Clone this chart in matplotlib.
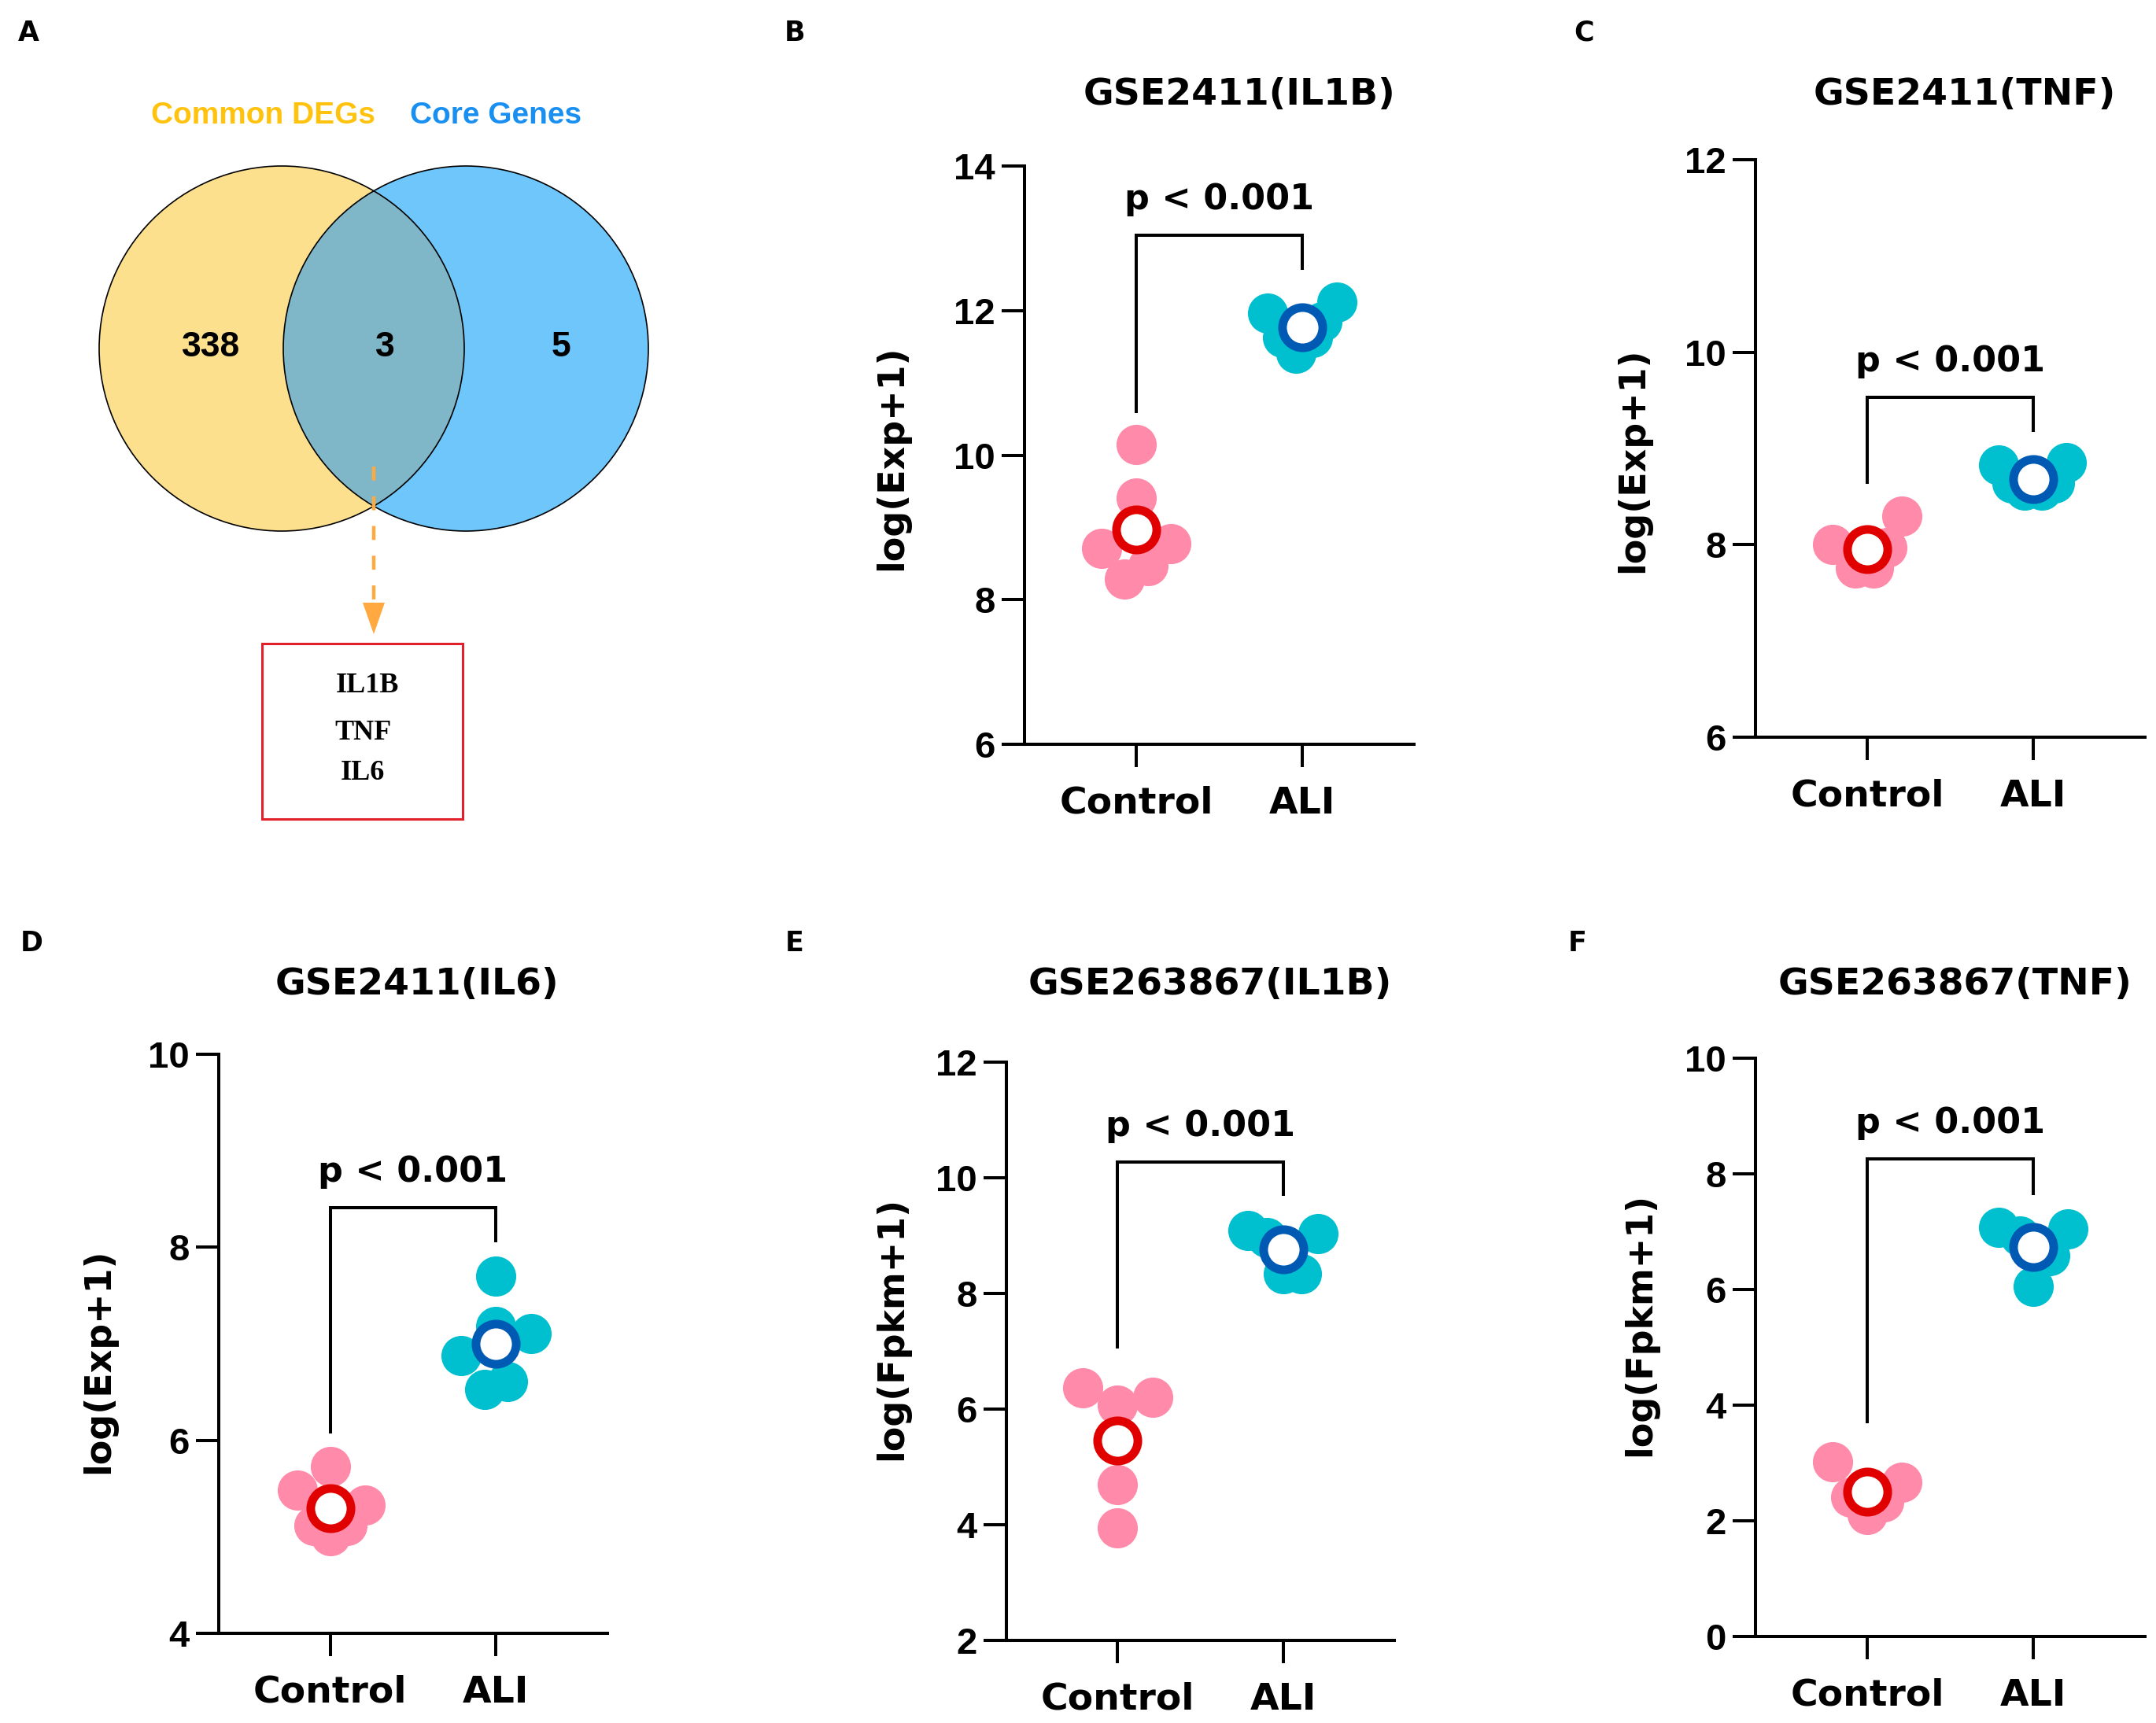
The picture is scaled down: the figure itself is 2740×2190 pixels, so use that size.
import numpy as np
import matplotlib.pyplot as plt
from matplotlib.patches import Circle, Rectangle, Polygon

W, H = 2740, 2190
DPI = 100

groups = ['Control', 'ALI']

# venn counts
venn_counts = [338, 3, 5]
venn_sets = ['Common DEGs', 'Core Genes']
shared_genes = ['IL1B', 'TNF', 'IL6']

# B: GSE2411 (IL1B)
b_ctrl = [10.15, 9.41, 8.71, 8.78, 8.47, 8.29]
b_ctrl_dx = [0.0, 0.0, -0.21, 0.21, 0.07, -0.07]
b_ali = [11.97, 12.12, 11.41, 11.63, 11.85, 11.63]
b_ali_dx = [-0.21, 0.21, -0.04, -0.12, 0.12, 0.06]
b_bracket = [10.6, 13.04, 12.58]

# C: GSE2411 (TNF)
c_ctrl = [8.30, 8.00, 7.76, 7.76, 7.97, 7.91]
c_ctrl_dx = [0.21, -0.21, -0.07, 0.04, 0.12, 0.0]
c_ali = [8.83, 8.85, 8.57, 8.57, 8.64, 8.64]
c_ali_dx = [-0.21, 0.20, -0.05, 0.05, -0.13, 0.13]
c_bracket = [8.65, 9.53, 9.19]

# D: GSE2411 (IL6)
d_ctrl = [5.73, 5.48, 5.33, 5.01, 5.12, 5.12]
d_ctrl_dx = [0.0, -0.20, 0.21, 0.0, -0.10, 0.10]
d_ali = [7.70, 7.18, 7.11, 6.88, 6.53, 6.61]
d_ali_dx = [0.0, 0.0, 0.21, -0.21, -0.07, 0.07]
d_bracket = [6.09, 8.41, 8.07]

# E: GSE263867 (IL1B)
e_ctrl = [6.37, 6.07, 6.21, 4.70, 3.94]
e_ctrl_dx = [-0.21, 0.0, 0.21, 0.0, 0.0]
e_ali = [9.09, 8.97, 9.04, 8.34, 8.34]
e_ali_dx = [-0.21, -0.10, 0.21, 0.0, 0.11]
e_bracket = [7.07, 10.27, 9.71]

# F: GSE263867 (TNF)
f_ctrl = [3.02, 2.66, 2.11, 2.41, 2.32]
f_ctrl_dx = [-0.21, 0.21, 0.0, -0.10, 0.10]
f_ali = [7.08, 7.05, 6.06, 6.92, 6.58]
f_ali_dx = [-0.21, 0.21, 0.0, -0.08, 0.10]
f_bracket = [3.71, 8.26, 7.66]

pink = '#FF8AAA'
cyan = '#00BFCF'
red = '#E00000'
blue = '#0059B3'

panels = [
    dict(letter='B', title='GSE2411(IL1B)', ylabel='log(Exp+1)', ylim=(6, 14), yticks=[6, 8, 10, 12, 14],
         ctrl=b_ctrl, cdx=b_ctrl_dx, ali=b_ali, adx=b_ali_dx, br=b_bracket,
         rect=(1302, 211, 1797, 946), lab=(-0.295, 0.496), tpos=(1575, 133), lpos=(997, 52)),
    dict(letter='C', title='GSE2411(TNF)', ylabel='log(Exp+1)', ylim=(6, 12), yticks=[6, 8, 10, 12],
         ctrl=c_ctrl, cdx=c_ctrl_dx, ali=c_ali, adx=c_ali_dx, br=c_bracket,
         rect=(2231, 203, 2726, 937), lab=(-0.269, 0.48), tpos=(2497, 133), lpos=(2000, 52)),
    dict(letter='D', title='GSE2411(IL6)', ylabel='log(Exp+1)', ylim=(4, 10), yticks=[4, 6, 8, 10],
         ctrl=d_ctrl, cdx=d_ctrl_dx, ali=d_ali, adx=d_ali_dx, br=d_bracket,
         rect=(278, 1340, 772, 2076), lab=(-0.263, 0.47), tpos=(530, 1264), lpos=(26, 1209)),
    dict(letter='E', title='GSE263867(IL1B)', ylabel='log(Fpkm+1)', ylim=(2, 12), yticks=[2, 4, 6, 8, 10, 12],
         ctrl=e_ctrl, cdx=e_ctrl_dx, ali=e_ali, adx=e_ali_dx, br=e_bracket,
         rect=(1279, 1350, 1772, 2085), lab=(-0.249, 0.539), tpos=(1538, 1264), lpos=(998, 1209)),
    dict(letter='F', title='GSE263867(TNF)', ylabel='log(Fpkm+1)', ylim=(0, 10), yticks=[0, 2, 4, 6, 8, 10],
         ctrl=f_ctrl, cdx=f_ctrl_dx, ali=f_ali, adx=f_ali_dx, br=f_bracket,
         rect=(2231, 1345, 2726, 2080), lab=(-0.25, 0.539), tpos=(2485, 1264), lpos=(1993, 1209)),
]

fig = plt.figure(figsize=(W / DPI, H / DPI), dpi=DPI)
fig.patch.set_facecolor('white')

BOLD = dict(fontfamily='DejaVu Sans', fontweight='bold')
LW = 2.9
MS = 36.8

for p in panels:
    l, t, r, b = p['rect']
    ax = fig.add_axes([l / W, 1 - b / H, (r - l) / W, (b - t) / H])
    ax.set_xlim(-0.673, 1.673)
    ax.set_ylim(*p['ylim'])
    ax.set_yticks(p['yticks'])
    ax.set_xticks([0, 1])
    ax.set_xticklabels(groups, fontsize=34, **BOLD)
    ax.set_yticklabels([str(v) for v in p['yticks']], fontsize=34,
                       fontfamily='Liberation Sans', fontweight='bold')
    for s in ['top', 'right']:
        ax.spines[s].set_visible(False)
    for s in ['left', 'bottom']:
        ax.spines[s].set_linewidth(LW)
    ax.tick_params(axis='both', length=21, width=LW, color='black')
    ax.tick_params(axis='y', pad=6)
    ax.tick_params(axis='x', pad=17)
    ax.set_ylabel(p['ylabel'], fontsize=33, **BOLD)
    ax.yaxis.set_label_coords(*p['lab'])

    for i, (vals, dx, col, mcol) in enumerate([(p['ctrl'], p['cdx'], pink, red),
                                               (p['ali'], p['adx'], cyan, blue)]):
        xs = i + np.array(dx)
        ax.plot(xs, vals, 'o', ms=MS, mfc=col, mec='none', ls='none', clip_on=False, zorder=3)
        ax.plot([i], [np.mean(vals)], 'o', ms=MS, mfc='white', mec=mcol, mew=7.9,
                ls='none', clip_on=False, zorder=4)

    y0, ytop, y1 = p['br']
    ax.plot([0, 0, 1, 1], [y0, ytop, ytop, y1], color='black', lw=LW,
            solid_joinstyle='miter', clip_on=False)
    ax.annotate('p < 0.001', xy=(0.5, ytop), xytext=(0, 24), textcoords='offset points',
                ha='center', va='baseline', fontsize=32, **BOLD)

    fig.text(p['tpos'][0] / W, 1 - p['tpos'][1] / H, p['title'], ha='center', va='baseline',
             fontsize=34, **BOLD)
    fig.text(p['lpos'][0] / W, 1 - p['lpos'][1] / H, p['letter'], ha='left', va='baseline',
             fontsize=25, **BOLD)

# panel A: venn
va = fig.add_axes([0, 1 - 1100 / H, 900 / W, 1100 / H])
va.set_xlim(0, 900)
va.set_ylim(1100, 0)
va.axis('off')

cl, cr, cy, rad = 358, 592, 443, 232
left = Circle((cl, cy), rad, fc='#FDE08D', ec='none')
right = Circle((cr, cy), rad, fc='#6EC6FA', ec='none')
va.add_patch(left)
va.add_patch(right)
ov = Circle((cr, cy), rad, fc='#7FB7C8', ec='none')
va.add_patch(ov)
ov.set_clip_path(left)
va.add_patch(Circle((cl, cy), rad, fc='none', ec='black', lw=1.2))
va.add_patch(Circle((cr, cy), rad, fc='none', ec='black', lw=1.2))

va.text(334, 157, venn_sets[0], ha='center', va='baseline', fontsize=28,
        fontfamily='Liberation Sans', fontweight='bold', color='#FFC20E')
va.text(630, 157, venn_sets[1], ha='center', va='baseline', fontsize=28,
        fontfamily='Liberation Sans', fontweight='bold', color='#1A8FF2')
for x, n in zip([268, 489, 713], venn_counts):
    va.text(x, 453, str(n), ha='center', va='baseline', fontsize=32,
            fontfamily='Liberation Sans', fontweight='bold', color='black')

va.plot([475, 475], [593, 766], color='#FFA940', lw=3.2, dashes=[4.0, 4.5],
        solid_capstyle='butt', dash_capstyle='butt')
va.add_patch(Polygon([(461, 766), (489, 766), (475, 806)], closed=True, fc='#FFA940', ec='none'))
va.add_patch(Rectangle((333, 818), 255, 223, fc='none', ec='#E0202A', lw=2.2))
for (x, y), g in zip([(467, 880), (462, 940), (461, 991)], shared_genes):
    va.text(x, y, g, ha='center', va='baseline', fontsize=26,
            fontfamily='Liberation Serif', fontweight='bold', color='black')
fig.text(23 / W, 1 - 52 / H, 'A', ha='left', va='baseline', fontsize=25, **BOLD)

fig.savefig('out.png', dpi=DPI, facecolor='white')
